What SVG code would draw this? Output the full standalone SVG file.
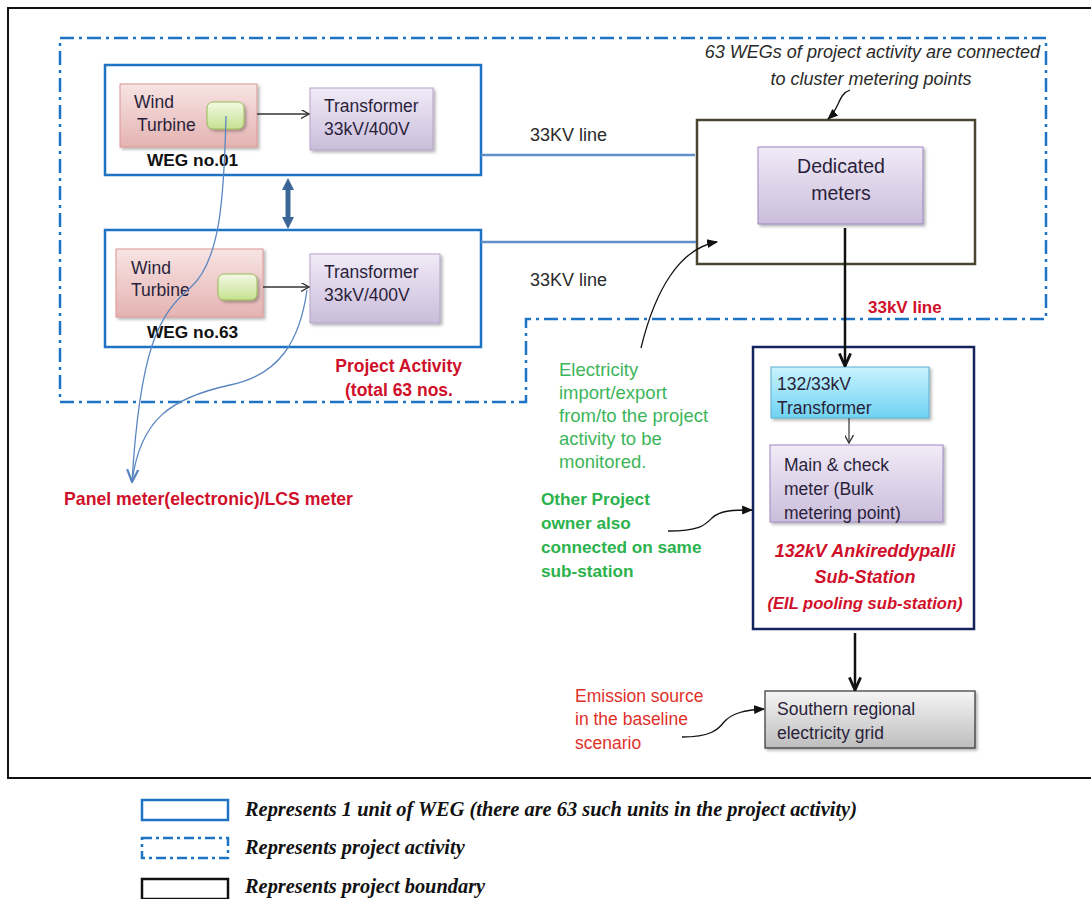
<svg xmlns="http://www.w3.org/2000/svg" width="1091" height="899" viewBox="0 0 1091 899">
<defs>
<linearGradient id="gPink" x1="0" y1="0" x2="0" y2="1"><stop offset="0" stop-color="#f7e4e3"/><stop offset="1" stop-color="#e4b3b2"/></linearGradient>
<linearGradient id="gPurple" x1="0" y1="0" x2="0" y2="1"><stop offset="0" stop-color="#f1ebf7"/><stop offset="1" stop-color="#cabddb"/></linearGradient>
<linearGradient id="gGreen" x1="0" y1="0" x2="0" y2="1"><stop offset="0" stop-color="#f2f9e4"/><stop offset="1" stop-color="#c6e18f"/></linearGradient>
<linearGradient id="gCyan" x1="0" y1="0" x2="0" y2="1"><stop offset="0" stop-color="#c9f3fd"/><stop offset="1" stop-color="#6fd3f3"/></linearGradient>
<linearGradient id="gGray" x1="0" y1="0" x2="0" y2="1"><stop offset="0" stop-color="#f5f5f5"/><stop offset="1" stop-color="#bdbdbd"/></linearGradient>
<filter id="sh" x="-10%" y="-10%" width="125%" height="130%"><feDropShadow dx="2" dy="2" stdDeviation="1.5" flood-color="#000" flood-opacity="0.3"/></filter>
<marker id="mOpen" viewBox="0 0 10 10" refX="9" refY="5" markerWidth="9" markerHeight="9" orient="auto" markerUnits="userSpaceOnUse"><path d="M0,0 L9,5 L0,10" fill="none" stroke="#333" stroke-width="1.5"/></marker>
<marker id="mBig" viewBox="0 0 10 10" refX="9" refY="5" markerWidth="14" markerHeight="14" orient="auto" markerUnits="userSpaceOnUse"><path d="M0,1 L9,5 L0,9" fill="none" stroke="#111" stroke-width="2"/></marker>
<marker id="mFill" viewBox="0 0 10 10" refX="9" refY="5" markerWidth="11" markerHeight="11" orient="auto" markerUnits="userSpaceOnUse"><path d="M0,1 L10,5 L0,9 Z" fill="#111"/></marker>
<marker id="mBlue" viewBox="0 0 10 10" refX="9" refY="5" markerWidth="14" markerHeight="14" orient="auto" markerUnits="userSpaceOnUse"><path d="M0,1 L9,5 L0,9" fill="none" stroke="#5a86c0" stroke-width="1.6"/></marker>
<marker id="mDbl" viewBox="0 0 10 10" refX="5" refY="5" markerWidth="12" markerHeight="12" orient="auto-start-reverse" markerUnits="userSpaceOnUse"><path d="M0,0 L10,5 L0,10 Z" fill="#3c6597"/></marker>
</defs>
<style>
text{font-family:"Liberation Sans",Arial,sans-serif;}
.t{font-size:18px;fill:#2a2a2a;}
.tk{font-size:17.5px;fill:#2a1f3a;}
.weg{fill:#fff;stroke:#1f73c4;stroke-width:2.5;}
.pa{fill:none;stroke:#1f73c4;stroke-width:2.5;stroke-dasharray:14 5 3 5;}
.line33{stroke:#5f8ec9;stroke-width:2.5;fill:none;}
.bold{font-weight:bold;}
.red{fill:#d0102a;}
.lg{font-family:"Liberation Serif","Times New Roman",serif;font-style:italic;font-weight:bold;font-size:20.4px;fill:#111;}
</style>
<rect width="1091" height="899" fill="#fff"/>
<!-- project boundary -->
<rect x="8" y="8" width="1092" height="770" fill="none" stroke="#111" stroke-width="2"/>
<!-- project activity -->
<path class="pa" d="M60,38 L1046,38 L1046,319 L526,319 L526,402 L60,402 Z"/>

<g id="weg01">
<rect class="weg" x="105" y="65" width="376" height="110"/>
<rect x="120" y="84" width="137" height="63" fill="url(#gPink)" stroke="#d99694" filter="url(#sh)"/>
<text class="tk" x="134" y="108">Wind</text>
<text class="tk" x="137" y="131">Turbine</text>
<rect x="207" y="102" width="37" height="27" rx="6" fill="url(#gGreen)" stroke="#9bbb59" filter="url(#sh)"/>
<rect x="310" y="88" width="123" height="62" fill="url(#gPurple)" stroke="#b3a2c7" filter="url(#sh)"/>
<text class="tk" x="324" y="112">Transformer</text>
<text class="tk" x="324" y="135">33kV/400V</text>
<text x="147" y="166" class="bold" font-size="17.3" fill="#111">WEG no.01</text>
</g>

<g id="weg63">
<rect class="weg" x="105" y="230" width="376" height="117"/>
<rect x="116" y="249" width="147" height="68" fill="url(#gPink)" stroke="#d99694" filter="url(#sh)"/>
<text class="tk" x="131" y="274">Wind</text>
<text class="tk" x="131" y="296">Turbine</text>
<rect x="218" y="274" width="39" height="26" rx="6" fill="url(#gGreen)" stroke="#9bbb59" filter="url(#sh)"/>
<rect x="310" y="254" width="130" height="69" fill="url(#gPurple)" stroke="#b3a2c7" filter="url(#sh)"/>
<text class="tk" x="324" y="278">Transformer</text>
<text class="tk" x="324" y="301">33kV/400V</text>
<text x="147" y="338" class="bold" font-size="17.3" fill="#111">WEG no.63</text>
</g>

<g id="dedicated">
<rect x="697" y="120" width="278" height="144" fill="#fff" stroke="#4a4530" stroke-width="2.5"/>
<rect x="758" y="147" width="165" height="77" fill="url(#gPurple)" stroke="#9d86c0" filter="url(#sh)"/>
<text x="841" y="173" font-size="19.5" text-anchor="middle" fill="#2a1f3a">Dedicated</text>
<text x="841" y="200" font-size="19.5" text-anchor="middle" fill="#2a1f3a">meters</text>
</g>

<g id="substation">
<rect x="753" y="347" width="221" height="282" fill="#fff" stroke="#14245e" stroke-width="2.5"/>
<rect x="771" y="367" width="158" height="51" fill="url(#gCyan)" stroke="#5aaed0" filter="url(#sh)"/>
<text class="tk" x="777" y="390">132/33kV</text>
<text class="tk" x="777" y="414">Transformer</text>
<rect x="770" y="445" width="173" height="77" fill="url(#gPurple)" stroke="#9d86c0" filter="url(#sh)"/>
<text class="tk" x="784" y="471">Main &amp; check</text>
<text class="tk" x="784" y="495">meter (Bulk</text>
<text class="tk" x="784" y="519">metering point)</text>
<text x="865" y="557" font-size="18" font-style="italic" font-weight="bold" class="red" text-anchor="middle">132kV Ankireddypalli</text>
<text x="865" y="583" font-size="18" font-style="italic" font-weight="bold" class="red" text-anchor="middle">Sub-Station</text>
<text x="865" y="609" font-size="16.6" font-style="italic" font-weight="bold" class="red" text-anchor="middle">(EIL pooling sub-station)</text>
</g>

<g id="grid">
<rect x="765" y="691" width="210" height="57" fill="url(#gGray)" stroke="#333" stroke-width="1.2" filter="url(#sh)"/>
<text class="tk" x="777" y="715">Southern regional</text>
<text class="tk" x="777" y="739">electricity grid</text>
</g>

<g id="labels">
<text x="1040" y="58" font-size="18" font-style="italic" fill="#2a2a2a" text-anchor="end">63 WEGs of project activity are connected</text>
<text x="871" y="85" font-size="18" font-style="italic" fill="#2a2a2a" text-anchor="middle">to cluster metering points</text>
<text class="t" x="530" y="141">33KV line</text>
<text class="t" x="530" y="286">33KV line</text>
<text x="868" y="313" font-size="17" class="bold red">33kV line</text>
<text x="462" y="372" font-size="17.5" class="bold red" text-anchor="end">Project Activity</text>
<text x="345" y="396" font-size="17.5" class="bold red">(total 63 nos.</text>
<text x="64" y="505" font-size="17.7" class="bold red">Panel meter(electronic)/LCS meter</text>
<g font-size="18.5" fill="#3cb55a">
<text x="559" y="376">Electricity</text>
<text x="559" y="399">import/export</text>
<text x="559" y="422">from/to the project</text>
<text x="559" y="445">activity to be</text>
<text x="559" y="468">monitored.</text>
</g>
<g font-size="17.2" font-weight="bold" fill="#2bb24c">
<text x="541" y="505">Other Project</text>
<text x="541" y="529">owner also</text>
<text x="541" y="553">connected on same</text>
<text x="541" y="577">sub-station</text>
</g>
<g font-size="17.5" fill="#e0302a">
<text x="575" y="702">Emission source</text>
<text x="575" y="725">in the baseline</text>
<text x="575" y="749">scenario</text>
</g>
</g>

<g id="connectors">
<line x1="257" y1="114" x2="309" y2="114" stroke="#333" stroke-width="1.5" marker-end="url(#mOpen)"/>
<line x1="263" y1="287" x2="309" y2="287" stroke="#333" stroke-width="1.5" marker-end="url(#mOpen)"/>
<line x1="288" y1="184" x2="288" y2="223" stroke="#3c6597" stroke-width="5" marker-start="url(#mDbl)" marker-end="url(#mDbl)"/>
<line class="line33" x1="481" y1="155" x2="695" y2="155"/>
<line class="line33" x1="481" y1="242" x2="696" y2="242"/>
<line x1="845" y1="228" x2="845" y2="366" stroke="#111" stroke-width="2.5" marker-end="url(#mBig)"/>
<line x1="849" y1="418" x2="849" y2="443" stroke="#333" stroke-width="1.2" marker-end="url(#mOpen)"/>
<line x1="855" y1="633" x2="855" y2="690" stroke="#111" stroke-width="2.5" marker-end="url(#mBig)"/>
<path d="M850,90 C838,94 840,108 828,119" fill="none" stroke="#111" stroke-width="1.3" marker-end="url(#mFill)"/>
<path d="M641,348 C655,290 680,248 717,242" fill="none" stroke="#111" stroke-width="1.3" marker-end="url(#mFill)"/>
<path d="M668,531 C700,531 705,525 712,518 C720,510 735,510 752,510" fill="none" stroke="#111" stroke-width="1.3" marker-end="url(#mFill)"/>
<path d="M682,737 C710,737 718,730 724,722 C732,713 745,710 764,709" fill="none" stroke="#111" stroke-width="1.3" marker-end="url(#mFill)"/>
<path d="M226,116 C224,200 220,262 190,288 C158,315 140,350 132,482" fill="none" stroke="#5a86c0" stroke-width="1.3" marker-end="url(#mBlue)"/>
<path d="M307,290 C300,340 280,375 230,385 C170,398 140,420 132,482" fill="none" stroke="#5a86c0" stroke-width="1.3"/>
</g>

<g id="legend">
<rect x="142" y="800" width="86" height="20" fill="#fff" stroke="#1f73c4" stroke-width="2.5"/>
<text class="lg" x="245" y="816">Represents 1 unit of WEG (there are 63 such units in the project activity)</text>
<rect x="142" y="838" width="86" height="20" fill="none" stroke="#1f73c4" stroke-width="2.5" stroke-dasharray="10 4 3 4"/>
<text class="lg" x="245" y="854">Represents project activity</text>
<rect x="142" y="879" width="86" height="20" fill="#fff" stroke="#111" stroke-width="2.5"/>
<text class="lg" x="245" y="893">Represents project boundary</text>
</g>
</svg>
